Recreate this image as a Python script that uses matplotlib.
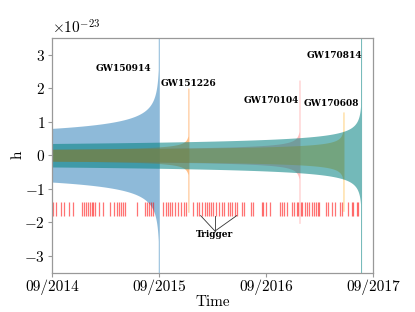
import numpy as np
import matplotlib
matplotlib.use("Agg")
import matplotlib.pyplot as plt
import matplotlib.dates as mdates
from matplotlib.ticker import FuncFormatter, ScalarFormatter
from datetime import datetime

plt.rcParams.update({
    "font.family": "serif",
    "font.serif": ["cmr10", "DejaVu Serif"],
    "mathtext.fontset": "cm",
    "axes.formatter.use_mathtext": True,
    "axes.unicode_minus": True,
})

# ---------------- data ----------------
start_date = datetime(2014, 9, 1)
end_date = datetime(2017, 9, 1)
tick_dates = [datetime(2014, 9, 1), datetime(2015, 9, 1), datetime(2016, 9, 1), datetime(2017, 9, 1)]

event_names = ["GW150914", "GW151226", "GW170104", "GW170608", "GW170814"]
event_days = [366, 467, 846, 996, 1056]          # days after 2014-09-01
amp_start = [0.80, 0.17, 0.18, 0.18, 0.35]       # envelope amplitude at start (x1e-23)
peak_up = [4.5, 2.00, 2.24, 1.29, 4.5]           # upper peak (x1e-23)
peak_low = [4.5, 1.70, 2.03, 1.67, 4.5]          # lower peak (x1e-23)
event_colors = ["#1f77b4", "#ff7f0e", "red", "orange", "teal"]
event_alphas = [0.5, 0.5, 0.25, 0.5, 0.55]

label_days = [242, 466, 749, 954, 964]
label_h = [2.57, 2.14, 1.63, 1.53, 2.98]

trigger_days = [2, 13, 30, 41, 58, 73, 101, 108, 115, 122, 129, 135, 141, 148, 161,
                175, 199, 211, 223, 230, 236, 243, 250, 291, 318, 325, 332, 339, 346,
                380, 388, 397, 404, 411, 420, 431, 439, 449, 457, 482, 494, 501, 510,
                522, 529, 536, 542, 550, 559, 571, 579, 588, 599, 607, 614, 623, 631,
                648, 655, 678, 685, 715, 721, 729, 744, 778, 785, 793, 801, 817, 825,
                835, 840, 848, 854, 863, 870, 875, 888, 895, 902, 909, 912, 936, 942,
                954, 965, 981, 988, 1010, 1022, 1028, 1039, 1043]
trigger_low, trigger_high = -1.8, -1.38
trigger_pointed = [507, 556, 630]
trigger_text_day, trigger_text_h = 556, -2.36

scale = 1e-23
spike_days = 3.5   # width of the final merger spike (days)

# ---------------- plot ----------------
fig = plt.figure(figsize=(4.15, 3.12), dpi=100)
ax = fig.add_axes([0.1253, 0.126, 0.7742, 0.753])

t0 = mdates.date2num(start_date)

for d, a0, pu, pl, c, al in zip(event_days, amp_start, peak_up, peak_low, event_colors, event_alphas):
    T = float(d)
    tau = np.geomspace(T, spike_days, 600)
    amp = a0 * (tau / T) ** (-0.25)
    x = np.concatenate([t0 + (d - tau), [t0 + d - spike_days * 0.999, t0 + d]])
    up = np.concatenate([np.minimum(amp, pu), [pu, pu]])
    lo = np.concatenate([-np.minimum(amp, pl), [-pl, -pl]])
    ax.fill_between(x, lo * scale, up * scale, color=c, alpha=al, linewidth=0)

for td in trigger_days:
    ax.vlines(t0 + td, trigger_low * scale, trigger_high * scale, color="red", alpha=0.55, linewidth=0.9)

for name, ld, lh in zip(event_names, label_days, label_h):
    ax.text(t0 + ld, lh * scale, name, ha="center", va="center", fontsize=6.5,
            fontweight="bold", family="DejaVu Serif")

ax.text(t0 + trigger_text_day, trigger_text_h * scale, "Trigger", ha="center", va="center",
        fontsize=6.5, fontweight="bold", family="DejaVu Serif")
for pd in trigger_pointed:
    ax.plot([t0 + trigger_text_day, t0 + pd], [(trigger_text_h + 0.1) * scale, trigger_low * scale],
            color="#333333", linewidth=0.6)

ax.set_xlim(mdates.date2num(start_date), mdates.date2num(end_date))
ax.set_ylim(-3.5 * scale, 3.5 * scale)
ax.set_xticks([mdates.date2num(d) for d in tick_dates])
ax.xaxis.set_major_formatter(FuncFormatter(lambda v, p: mdates.num2date(v).strftime("%m/%Y")))
ax.set_yticks(np.arange(-3, 4) * scale)
fmt = ScalarFormatter(useMathText=True)
ax.yaxis.set_major_formatter(fmt)
ax.tick_params(labelsize=11, direction="out", length=3, color="#999999", width=0.8, pad=2)
ax.yaxis.get_offset_text().set_fontsize(11)
for s in ax.spines.values():
    s.set_color("#999999")
    s.set_linewidth(0.9)
ax.set_xlabel("Time", fontsize=11, labelpad=0)
ax.set_ylabel("h", fontsize=11, labelpad=0)

fig.savefig("out.png", dpi=100)
